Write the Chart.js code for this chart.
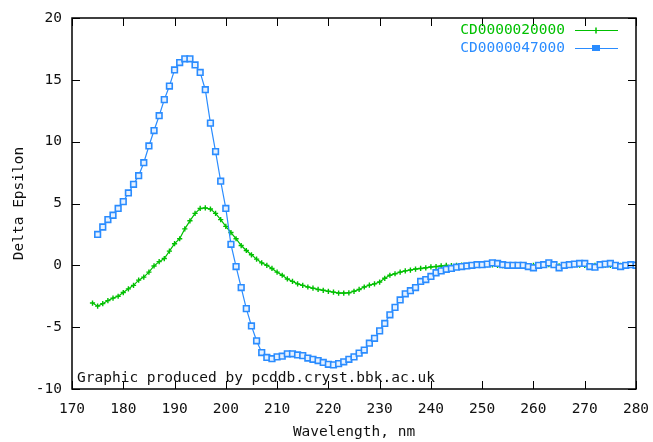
<!DOCTYPE html>
<html>
<head>
<meta charset="utf-8">
<script src="https://cdn.jsdelivr.net/npm/chart.js@4.4.1/dist/chart.umd.min.js"></script>
<style>
  html, body { margin: 0; padding: 0; background: #fff; }
  #wrap { width: 653px; height: 442px; }
</style>
</head>
<body>
<div id="wrap"><canvas id="cd-chart"></canvas></div>
<script>
// wavelengths (nm) and delta epsilon values
const wlGreen = [174, 175, 176, 177, 178, 179, 180, 181, 182, 183, 184, 185, 186, 187, 188, 189,
  190, 191, 192, 193, 194, 195, 196, 197, 198, 199, 200, 201, 202, 203, 204, 205, 206, 207, 208, 209,
  210, 211, 212, 213, 214, 215, 216, 217, 218, 219, 220, 221, 222, 223, 224, 225, 226, 227, 228, 229,
  230, 231, 232, 233, 234, 235, 236, 237, 238, 239, 240, 241, 242, 243, 244, 245, 246, 247, 248, 249,
  250, 251, 252, 253, 254, 255, 256, 257, 258, 259, 260, 261, 262, 263, 264, 265, 266, 267, 268, 269,
  270, 271, 272, 273, 274, 275, 276, 277, 278, 279, 280];
const deGreen = [-3.05, -3.3, -3.1, -2.85, -2.65, -2.5, -2.2, -1.9, -1.62, -1.2, -0.95, -0.55, -0.05, 0.3, 0.55, 1.15,
  1.75, 2.15, 2.95, 3.6, 4.2, 4.6, 4.65, 4.55, 4.2, 3.7, 3.15, 2.65, 2.15, 1.6, 1.2, 0.85, 0.5, 0.2, 0.0, -0.25,
  -0.55, -0.8, -1.1, -1.3, -1.5, -1.62, -1.75, -1.85, -1.95, -2.02, -2.1, -2.17, -2.24, -2.24, -2.22, -2.1, -1.95, -1.75, -1.6, -1.5,
  -1.35, -1.05, -0.8, -0.68, -0.55, -0.45, -0.38, -0.3, -0.25, -0.2, -0.13, -0.1, -0.05, 0, -0.02, 0, 0.02, 0, -0.03, 0,
  0.02, 0.05, 0.03, 0, -0.02, 0, 0.03, 0.05, 0.02, -0.05, 0, 0.03, 0, 0.05, 0, -0.05, 0, 0.03, 0.05, 0.02,
  0, -0.03, 0, 0.05, 0.02, 0, 0.03, 0, -0.02, 0.02, 0];

const wlBlue = [175, 176, 177, 178, 179, 180, 181, 182, 183, 184, 185, 186, 187, 188, 189,
  190, 191, 192, 193, 194, 195, 196, 197, 198, 199, 200, 201, 202, 203, 204, 205, 206, 207, 208, 209,
  210, 211, 212, 213, 214, 215, 216, 217, 218, 219, 220, 221, 222, 223, 224, 225, 226, 227, 228, 229,
  230, 231, 232, 233, 234, 235, 236, 237, 238, 239, 240, 241, 242, 243, 244, 245, 246, 247, 248, 249,
  250, 251, 252, 253, 254, 255, 256, 257, 258, 259, 260, 261, 262, 263, 264, 265, 266, 267, 268, 269,
  270, 271, 272, 273, 274, 275, 276, 277, 278, 279, 280];
const deBlue = [2.5, 3.1, 3.7, 4.05, 4.6, 5.15, 5.85, 6.55, 7.25, 8.3, 9.65, 10.9, 12.1, 13.4, 14.5,
  15.8, 16.4, 16.7, 16.7, 16.2, 15.6, 14.2, 11.5, 9.2, 6.8, 4.6, 1.7, -0.1, -1.8, -3.5, -4.9, -6.1, -7.05, -7.45, -7.55,
  -7.4, -7.35, -7.15, -7.15, -7.25, -7.3, -7.5, -7.6, -7.7, -7.85, -8.0, -8.05, -7.95, -7.8, -7.6, -7.4, -7.1, -6.85, -6.3, -5.9,
  -5.3, -4.7, -4.0, -3.4, -2.8, -2.3, -2.05, -1.8, -1.3, -1.15, -0.9, -0.6, -0.45, -0.32, -0.25, -0.15, -0.1, -0.05, 0, 0.05,
  0.05, 0.1, 0.2, 0.15, 0.05, 0, 0, 0, 0, -0.1, -0.2, 0, 0.05, 0.2, 0.05, -0.2, 0, 0.05, 0.1, 0.15,
  0.15, -0.1, -0.15, 0.05, 0.1, 0.15, 0, -0.1, 0, 0.05, 0];

const seriesNames = ['CD0000020000', 'CD0000047000'];
const xTicks = [170, 180, 190, 200, 210, 220, 230, 240, 250, 260, 270, 280];
const yTicks = [-10, -5, 0, 5, 10, 15, 20];

const GREEN = '#00c000';
const BLUE = '#2a8cff';
const FONT = '"DejaVu Sans Mono", monospace';

function pts(xs, ys) {
  return xs.map(function (x, i) { return { x: x, y: ys[i] }; });
}

// inward ticks on all four sides, full frame, legend and credit line
const gnuplotLook = {
  id: 'gnuplotLook',
  afterDraw: function (chart) {
    const c = chart.ctx;
    const a = chart.chartArea;
    const xs = chart.scales.x, ys = chart.scales.y;
    const tl = 8;
    c.save();
    c.strokeStyle = '#000';
    c.lineWidth = 1;
    c.beginPath();
    xTicks.forEach(function (v) {
      const px = Math.round(xs.getPixelForValue(v)) + 0.5;
      c.moveTo(px, a.bottom); c.lineTo(px, a.bottom - tl);
      c.moveTo(px, a.top); c.lineTo(px, a.top + tl);
    });
    yTicks.forEach(function (v) {
      const py = Math.round(ys.getPixelForValue(v)) + 0.5;
      c.moveTo(a.left, py); c.lineTo(a.left + tl, py);
      c.moveTo(a.right, py); c.lineTo(a.right - tl, py);
    });
    c.stroke();
    c.lineWidth = 1.5;
    c.strokeRect(a.left, a.top, a.right - a.left, a.bottom - a.top);

    // legend
    c.font = '14.5px ' + FONT;
    c.textBaseline = 'middle';
    c.textAlign = 'right';
    const rows = [
      { name: seriesNames[0], color: GREEN, y: a.top + 12, box: false },
      { name: seriesNames[1], color: BLUE, y: a.top + 30, box: true }
    ];
    rows.forEach(function (r) {
      c.fillStyle = r.color;
      c.fillText(r.name, a.right - 71, r.y);
      c.strokeStyle = r.color;
      c.lineWidth = 1;
      c.beginPath();
      c.moveTo(a.right - 61, r.y + 0.5);
      c.lineTo(a.right - 18, r.y + 0.5);
      c.stroke();
      const mx = a.right - 40;
      if (r.box) {
        c.fillRect(mx - 4, r.y - 3, 8, 6);
      } else {
        c.lineWidth = 1.5;
        c.beginPath();
        c.moveTo(mx, r.y - 2.5); c.lineTo(mx, r.y + 3.5);
        c.stroke();
      }
    });

    c.fillStyle = '#111';
    c.textAlign = 'left';
    c.fillText('Graphic produced by pcddb.cryst.bbk.ac.uk', a.left + 5, a.bottom - 11);
    c.restore();
  }
};

new Chart(document.getElementById('cd-chart'), {
  type: 'line',
  data: {
    datasets: [{
      label: seriesNames[1],
      data: pts(wlBlue, deBlue),
      borderColor: BLUE,
      backgroundColor: '#ffffff',
      borderWidth: 1.2,
      pointStyle: 'rect',
      pointRadius: 4,
      pointBorderWidth: 1.6,
      pointBorderColor: BLUE,
      pointBackgroundColor: '#e6f1ff',
      tension: 0,
      order: 0
    }, {
      label: seriesNames[0],
      data: pts(wlGreen, deGreen),
      borderColor: GREEN,
      backgroundColor: GREEN,
      borderWidth: 1.2,
      pointStyle: 'cross',
      pointRadius: 2.6,
      pointBorderWidth: 1.4,
      pointBorderColor: GREEN,
      tension: 0,
      order: 1
    }]
  },
  plugins: [gnuplotLook],
  options: {
    responsive: true,
    maintainAspectRatio: false,
    animation: false,
    layout: { padding: { left: 0, right: 17, top: 18, bottom: 0 } },
    plugins: { legend: { display: false }, tooltip: { enabled: false } },
    scales: {
      x: {
        type: 'linear',
        min: 170,
        max: 280,
        afterBuildTicks: function (s) { s.ticks = xTicks.map(function (v) { return { value: v }; }); },
        afterFit: function (s) { s.height = 53; s.paddingLeft = 0; s.paddingRight = 0; },
        grid: { display: false, drawTicks: false },
        border: { display: false },
        ticks: { color: '#111', padding: 12, maxRotation: 0, font: { family: FONT, size: 14.5 } },
        title: {
          display: true,
          text: 'Wavelength, nm',
          color: '#111',
          padding: { top: 0, bottom: 1.5 },
          font: { family: FONT, size: 14.5 }
        }
      },
      y: {
        min: -10,
        max: 20,
        afterBuildTicks: function (s) { s.ticks = yTicks.map(function (v) { return { value: v }; }); },
        afterFit: function (s) { s.width = 72; s.paddingTop = 0; s.paddingBottom = 0; },
        grid: { display: false, drawTicks: false },
        border: { display: false },
        ticks: { color: '#111', padding: 10, font: { family: FONT, size: 14.5 } },
        title: {
          display: true,
          text: 'Delta Epsilon',
          color: '#111',
          padding: { top: 11, bottom: 0 },
          font: { family: FONT, size: 14.5 }
        }
      }
    }
  }
});
</script>
</body>
</html>
